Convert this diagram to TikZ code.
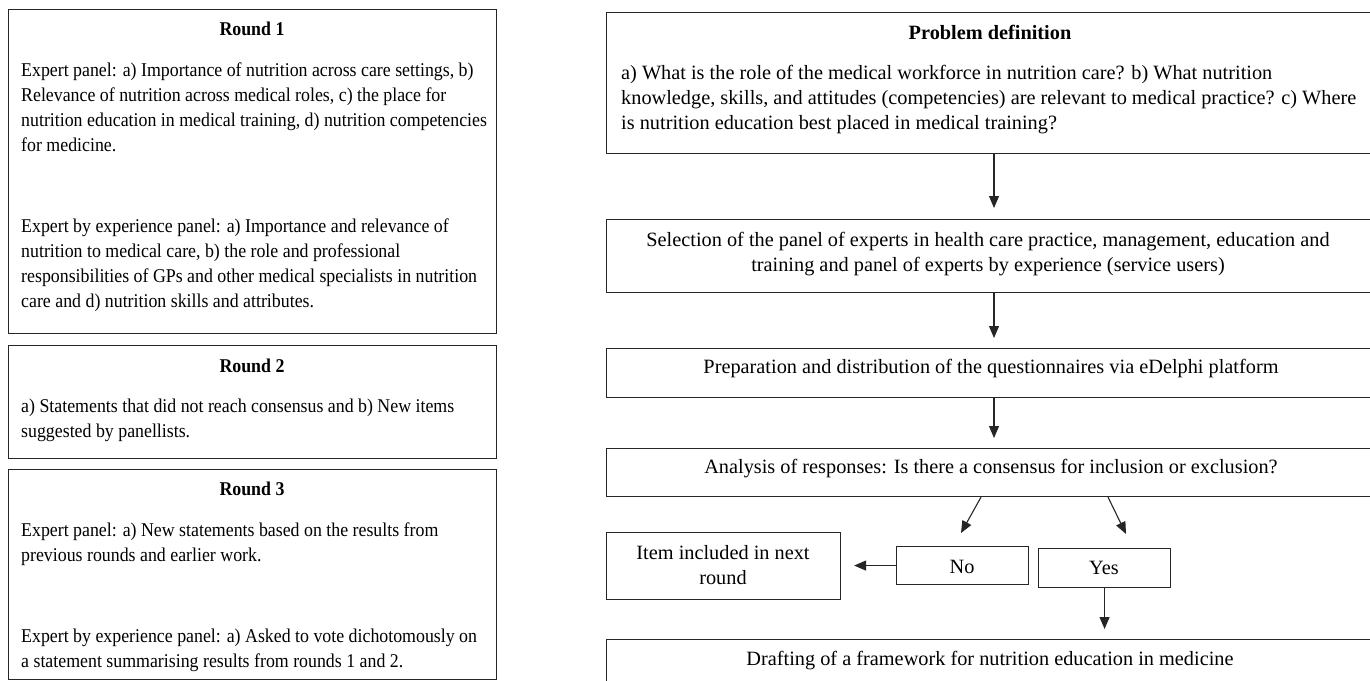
\documentclass[tikz,border=0pt]{standalone}
\usepackage{fontspec}
\setmainfont{Liberation Serif}
\newfontfamily\narrowfont[FakeStretch=0.915]{Liberation Serif}
\usetikzlibrary{arrows.meta}
\newcommand\mlines[2][l]{\begin{tabular}[t]{@{}#1@{}}#2\end{tabular}}
\tikzset{
  box/.style={draw=black!85, line width=1.1pt, inner sep=0pt, anchor=north west},
  txt/.style={inner sep=0pt, font=\narrowfont\fontsize{19.5}{25}\selectfont},
  rtxt/.style={inner sep=0pt, font=\fontsize{20.3}{25}\selectfont},
  arr/.style={draw=black!85, line width=1.1pt, -{Triangle[length=12pt,width=10pt]}}
}
\begin{document}
\begin{tikzpicture}[x=1pt,y=-1pt]
\useasboundingbox (0,0) rectangle (1370,680);
% left column boxes
\node[box, minimum width=488pt, minimum height=324pt] (r1) at (8,9) {};
\node[box, minimum width=488pt, minimum height=113pt] (r2) at (8,345) {};
\node[box, minimum width=488pt, minimum height=210pt] (r3) at (8,469) {};
% right column boxes
\node[box, minimum width=766pt, minimum height=141pt] (pd) at (606,12) {};
\node[box, minimum width=766pt, minimum height=73pt] (sel) at (606,219) {};
\node[box, minimum width=766pt, minimum height=49pt] (prep) at (606,348) {};
\node[box, minimum width=766pt, minimum height=48pt] (ana) at (606,448) {};
\node[box, minimum width=234pt, minimum height=67pt] (item) at (606,532) {};
\node[box, minimum width=132pt, minimum height=38pt] (no) at (896,546) {};
\node[box, minimum width=132pt, minimum height=39pt] (yes) at (1038,548) {};
\node[box, minimum width=766pt, minimum height=60pt] (draft) at (606,639) {};
% left texts
\node[txt, anchor=base] (r1t) at (252,35) {\textbf{Round 1}};
\node[txt, anchor=base west] (r1a) at (21,76) {\mlines{Expert panel: a) Importance of nutrition across care settings, b)\\
Relevance of nutrition across medical roles, c) the place for\\
nutrition education in medical training, d) nutrition competencies\\
for medicine.}};
\node[txt, anchor=base west] (r1b) at (21,232) {\mlines{Expert by experience panel: a) Importance and relevance of\\
nutrition to medical care, b) the role and professional\\
responsibilities of GPs and other medical specialists in nutrition\\
care and d) nutrition skills and attributes.}};
\node[txt, anchor=base] (r2t) at (252,372) {\textbf{Round 2}};
\node[txt, anchor=base west] (r2a) at (21,412) {\mlines{a) Statements that did not reach consensus and b) New items\\
suggested by panellists.}};
\node[txt, anchor=base] (r3t) at (252,495) {\textbf{Round 3}};
\node[txt, anchor=base west] (r3a) at (21,536) {\mlines{Expert panel: a) New statements based on the results from\\
previous rounds and earlier work.}};
\node[txt, anchor=base west] (r3b) at (21,642) {\mlines{Expert by experience panel: a) Asked to vote dichotomously on\\
a statement summarising results from rounds 1 and 2.}};
% right texts
\node[rtxt, anchor=base] (pdt) at (990,39) {\textbf{Problem definition}};
\node[rtxt, anchor=base west] (pda) at (621,79) {\mlines{a) What is the role of the medical workforce in nutrition care? b) What nutrition\\
knowledge, skills, and attitudes (competencies) are relevant to medical practice? c) Where\\
is nutrition education best placed in medical training?}};
\node[rtxt, anchor=base] (selt) at (988,246) {\mlines[c]{Selection of the panel of experts in health care practice, management, education and\\
training and panel of experts by experience (service users)}};
\node[rtxt, anchor=base] (prept) at (991,373) {Preparation and distribution of the questionnaires via eDelphi platform};
\node[rtxt, anchor=base] (anat) at (991,473) {Analysis of responses: Is there a consensus for inclusion or exclusion?};
\node[rtxt, anchor=base] (itemt) at (723,559) {\mlines[c]{Item included in next\\round}};
\node[rtxt, anchor=base] (not) at (962,573) {No};
\node[rtxt, anchor=base] (yest) at (1104,574) {Yes};
\node[rtxt, anchor=base] (draftt) at (990,665) {Drafting of a framework for nutrition education in medicine};
% connectors
\coordinate (cx) at (994,0);
\draw[arr, shorten >=11pt] (pd.south -| cx) -- (sel.north -| cx);
\draw[arr, shorten >=10pt] (sel.south -| cx) -- (prep.north -| cx);
\draw[arr, shorten >=10pt] (prep.south -| cx) -- (ana.north -| cx);
\coordinate (nos) at (981,0);
\coordinate (noe) at (961,533);
\draw[arr] (ana.south -| nos) -- (noe);
\coordinate (yess) at (1108,0);
\coordinate (yese) at (1126,534);
\draw[arr] (ana.south -| yess) -- (yese);
\draw[arr, shorten >=13pt] (no.west) -- (item.east |- no.west);
\draw[arr, shorten >=10pt] (yes.south) -- (yes.south |- draft.north);
\end{tikzpicture}
\end{document}
